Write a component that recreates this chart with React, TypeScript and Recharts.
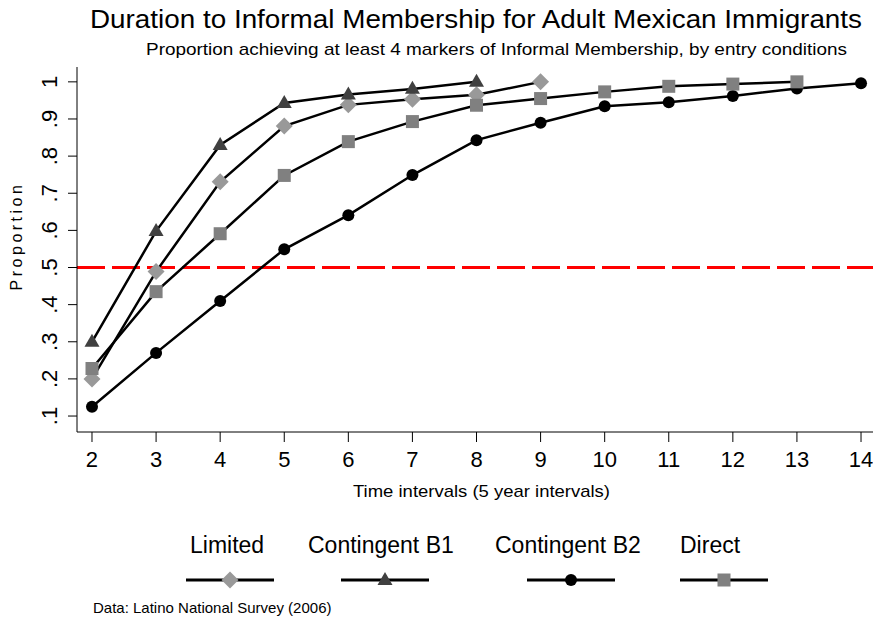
import React from 'react';
import { LineChart, Line, XAxis, YAxis, ReferenceLine } from 'recharts';

const periods = [2, 3, 4, 5, 6, 7, 8, 9, 10, 11, 12, 13, 14];
const limited = [0.2, 0.489, 0.731, 0.881, 0.938, 0.953, 0.965, 1.0];
const contingentB1 = [0.3, 0.598, 0.83, 0.943, 0.966, 0.981, 1.0];
const contingentB2 = [0.125, 0.27, 0.41, 0.549, 0.641, 0.749, 0.843, 0.89, 0.934, 0.945, 0.962, 0.982, 0.996];
const direct = [0.228, 0.435, 0.591, 0.748, 0.839, 0.893, 0.937, 0.955, 0.973, 0.988, 0.994, 1.0];
const yTicks = [0.1, 0.2, 0.3, 0.4, 0.5, 0.6, 0.7, 0.8, 0.9, 1];
const threshold = 0.5;

const data = periods.map((p, i) => ({
  period: p,
  limited: limited[i] ?? null,
  contingentB1: contingentB1[i] ?? null,
  contingentB2: contingentB2[i] ?? null,
  direct: direct[i] ?? null,
}));

type Shape = 'diamond' | 'triangle' | 'circle' | 'square';

const series: { key: string; name: string; shape: Shape; fill: string }[] = [
  { key: 'limited', name: 'Limited', shape: 'diamond', fill: '#999999' },
  { key: 'contingentB1', name: 'Contingent B1', shape: 'triangle', fill: '#404040' },
  { key: 'contingentB2', name: 'Contingent B2', shape: 'circle', fill: '#000000' },
  { key: 'direct', name: 'Direct', shape: 'square', fill: '#808080' },
];

// legend slot layout: label start x, symbol centre x
const legendSlots = [
  { textX: 190, lineX: 230 },
  { textX: 308, lineX: 385 },
  { textX: 495, lineX: 571 },
  { textX: 680, lineX: 724 },
];

const FONT = '"Liberation Sans", Arial, Helvetica, sans-serif';

function Marker({ shape, fill, cx, cy }: { shape: Shape; fill: string; cx: number; cy: number }) {
  if (shape === 'diamond') {
    const r = 8.5;
    return <polygon points={`${cx},${cy - r} ${cx + r},${cy} ${cx},${cy + r} ${cx - r},${cy}`} fill={fill} />;
  }
  if (shape === 'triangle') {
    const s = 15;
    const h = 13;
    return <polygon points={`${cx},${cy - h * 0.62} ${cx + s / 2},${cy + h * 0.38} ${cx - s / 2},${cy + h * 0.38}`} fill={fill} />;
  }
  if (shape === 'circle') {
    return <circle cx={cx} cy={cy} r={6} fill={fill} />;
  }
  const s = 13;
  return <rect x={cx - s / 2} y={cy - s / 2} width={s} height={s} fill={fill} />;
}

const makeDot = (shape: Shape, fill: string) => (props: any) => {
  const { cx, cy, index, value } = props;
  if (value == null || cx == null || cy == null) return <g key={`e-${index}`} />;
  return <Marker key={`d-${index}`} shape={shape} fill={fill} cx={cx} cy={cy} />;
};

const XTick = (props: any) => {
  const { x, y, payload } = props;
  return (
    <text x={x} y={y + 25} textAnchor="middle" fontSize={22} fontFamily={FONT} fill="#000">
      {payload.value}
    </text>
  );
};

const fmtY = (v: number) => (v === 1 ? '1' : v.toFixed(1).replace(/^0/, ''));

const YTick = (props: any) => {
  const { x, y, payload } = props;
  return (
    <text
      x={x}
      y={y}
      transform={`rotate(-90, ${x}, ${y})`}
      textAnchor="middle"
      fontSize={22}
      fontFamily={FONT}
      fill="#000"
    >
      {fmtY(payload.value)}
    </text>
  );
};

export default function App() {
  return (
    <div style={{ position: 'absolute', top: 0, left: 0, width: 873, height: 635, background: '#fff' }}>
      <LineChart width={873} height={635} data={data} margin={{ top: 67, right: 0, left: 0, bottom: 163 }}>
        <XAxis
          dataKey="period"
          type="number"
          domain={[1.766, 14.187]}
          allowDataOverflow
          ticks={periods}
          interval={0}
          height={40}
          tickSize={10}
          tickMargin={0}
          tick={<XTick />}
          stroke="#000"
        />
        <YAxis
          type="number"
          domain={[0.057, 1.04]}
          allowDataOverflow
          ticks={yTicks}
          interval={0}
          width={77}
          tickSize={9}
          tickMargin={11}
          tick={<YTick />}
          stroke="#000"
        />
        <ReferenceLine y={threshold} stroke="#ff0000" strokeWidth={3} strokeDasharray="28 7" />
        {series.map((s) => (
          <Line
            key={s.key}
            dataKey={s.key}
            name={s.name}
            type="linear"
            stroke="#000"
            strokeWidth={2.5}
            dot={makeDot(s.shape, s.fill)}
            activeDot={false}
            isAnimationActive={false}
          />
        ))}
      </LineChart>
      <svg
        width={873}
        height={635}
        style={{ position: 'absolute', top: 0, left: 0, pointerEvents: 'none' }}
        fontFamily={FONT}
      >
        <text x={90} y={28} fontSize={26} textLength={772} lengthAdjust="spacingAndGlyphs" fill="#000">
          Duration to Informal Membership for Adult Mexican Immigrants
        </text>
        <text x={146} y={55} fontSize={17} textLength={701} lengthAdjust="spacingAndGlyphs" fill="#000">
          Proportion achieving at least 4 markers of Informal Membership, by entry conditions
        </text>
        <text x={22} y={236} transform="rotate(-90, 22, 236)" textAnchor="middle" fontSize={16} letterSpacing={3.5} fill="#000">
          Proportion
        </text>
        <text x={353} y={497} fontSize={17} textLength={257} lengthAdjust="spacingAndGlyphs" fill="#000">
          Time intervals (5 year intervals)
        </text>
        {series.map((s, i) => {
          const slot = legendSlots[i];
          return (
            <g key={s.key}>
              <text x={slot.textX} y={553} fontSize={23} fill="#000">
                {s.name}
              </text>
              <line x1={slot.lineX - 44} x2={slot.lineX + 44} y1={580} y2={580} stroke="#000" strokeWidth={3} />
              <Marker shape={s.shape} fill={s.fill} cx={slot.lineX} cy={580} />
            </g>
          );
        })}
        <text x={93} y={613} fontSize={15} fill="#000">
          Data: Latino National Survey (2006)
        </text>
      </svg>
    </div>
  );
}
